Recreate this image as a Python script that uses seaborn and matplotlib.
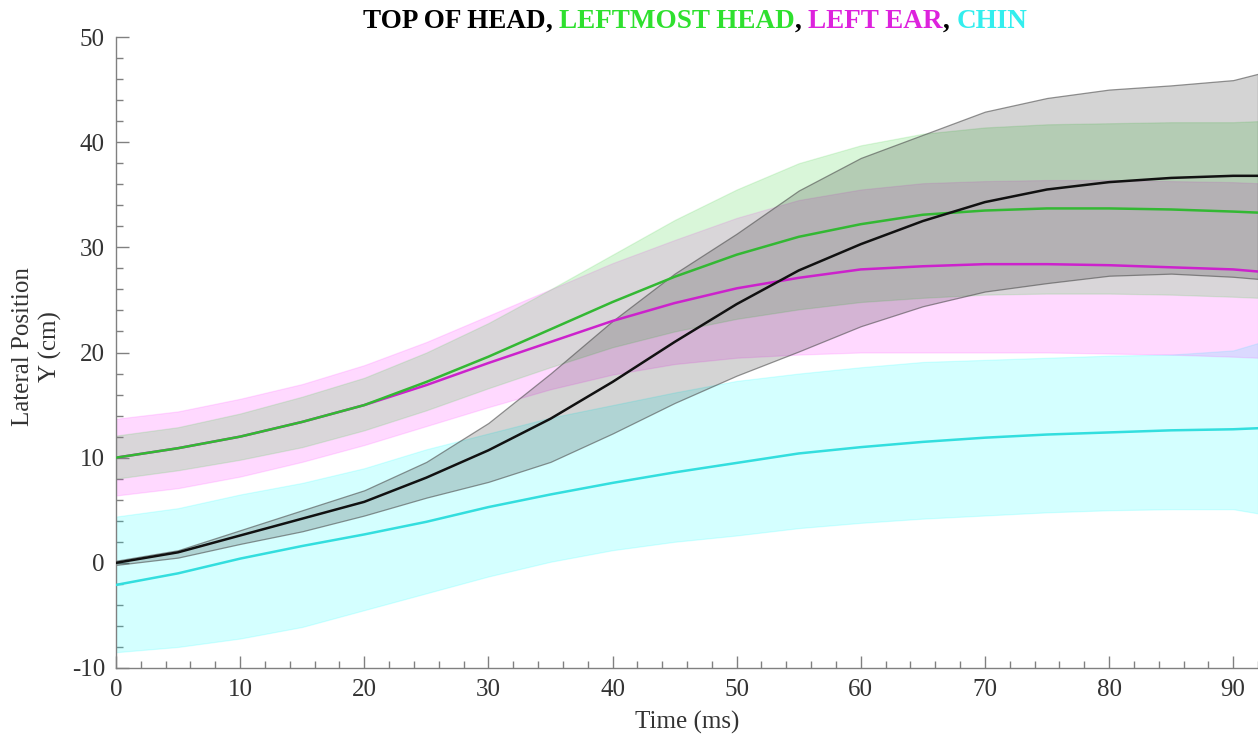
import numpy as np
import pandas as pd
import matplotlib
matplotlib.use("Agg")
import matplotlib.pyplot as plt
import seaborn as sns
from matplotlib.ticker import MultipleLocator

# ---------------- data ----------------
time_ms = [0, 5, 10, 15, 20, 25, 30, 35, 40, 45, 50, 55, 60, 65, 70, 75, 80, 85, 90, 92]

top_mean = [0.0, 1.0, 2.6, 4.2, 5.8, 8.1, 10.7, 13.7, 17.2, 21.0, 24.6, 27.8, 30.3, 32.5, 34.3, 35.5, 36.2, 36.6, 36.8, 36.8]
top_lo   = [-0.2, 0.5, 1.8, 3.0, 4.5, 6.2, 7.7, 9.6, 12.3, 15.2, 17.8, 20.1, 22.5, 24.4, 25.8, 26.6, 27.3, 27.5, 27.2, 27.0]
top_hi   = [0.2, 1.2, 3.1, 5.0, 6.9, 9.6, 13.3, 18.0, 23.0, 27.5, 31.3, 35.4, 38.5, 40.7, 42.9, 44.2, 45.0, 45.4, 45.9, 46.5]

lmh_mean = [10.0, 10.9, 12.0, 13.4, 15.0, 17.2, 19.6, 22.2, 24.8, 27.2, 29.3, 31.0, 32.2, 33.1, 33.5, 33.7, 33.7, 33.6, 33.4, 33.3]
lmh_lo   = [8.0, 8.8, 9.8, 11.0, 12.6, 14.5, 16.6, 18.6, 20.5, 22.0, 23.2, 24.1, 24.8, 25.2, 25.5, 25.6, 25.6, 25.5, 25.3, 25.2]
lmh_hi   = [12.1, 12.9, 14.2, 15.8, 17.6, 20.0, 22.8, 26.0, 29.3, 32.6, 35.5, 38.0, 39.7, 40.8, 41.4, 41.7, 41.8, 41.9, 41.9, 42.0]

ear_mean = [10.0, 10.9, 12.0, 13.4, 15.0, 16.9, 19.0, 21.0, 23.0, 24.7, 26.1, 27.1, 27.9, 28.2, 28.4, 28.4, 28.3, 28.1, 27.9, 27.7]
ear_lo   = [6.4, 7.1, 8.2, 9.6, 11.2, 13.0, 14.8, 16.5, 17.9, 18.9, 19.5, 19.8, 20.0, 20.0, 20.0, 20.0, 19.9, 19.8, 19.6, 19.5]
ear_hi   = [13.7, 14.4, 15.6, 17.0, 18.8, 21.0, 23.5, 26.0, 28.5, 30.7, 32.8, 34.5, 35.5, 36.1, 36.3, 36.4, 36.4, 36.3, 36.2, 36.1]

chin_mean = [-2.1, -1.0, 0.4, 1.6, 2.7, 3.9, 5.3, 6.5, 7.6, 8.6, 9.5, 10.4, 11.0, 11.5, 11.9, 12.2, 12.4, 12.6, 12.7, 12.8]
chin_lo   = [-8.5, -8.0, -7.2, -6.1, -4.5, -2.9, -1.3, 0.1, 1.2, 2.0, 2.6, 3.3, 3.8, 4.2, 4.5, 4.8, 5.0, 5.1, 5.1, 4.7]
chin_hi   = [4.4, 5.2, 6.5, 7.6, 9.0, 10.8, 12.3, 13.8, 15.0, 16.2, 17.3, 18.0, 18.6, 19.1, 19.3, 19.5, 19.7, 19.8, 20.2, 20.9]

series_names = ["TOP OF HEAD", "LEFTMOST HEAD", "LEFT EAR", "CHIN"]
x_ticks = [0, 10, 20, 30, 40, 50, 60, 70, 80, 90]
y_ticks = [-10, 0, 10, 20, 30, 40, 50]

# ---------------- styling ----------------
line_colors = {"TOP OF HEAD": "#111111", "LEFTMOST HEAD": "#33b833",
               "LEFT EAR": "#cc22cc", "CHIN": "#33dede"}
band_colors = {"TOP OF HEAD": "#000000", "LEFTMOST HEAD": "#22cc22",
               "LEFT EAR": "#ff22ff", "CHIN": "#00ffff"}
edge_colors = {"TOP OF HEAD": (0.3, 0.3, 0.3, 0.6), "LEFTMOST HEAD": (0.2, 0.8, 0.2, 0.15),
               "LEFT EAR": (1.0, 0.2, 1.0, 0.15), "CHIN": (0.0, 1.0, 1.0, 0.15)}
title_colors = {"TOP OF HEAD": "#000000", "LEFTMOST HEAD": "#2ee02e",
                "LEFT EAR": "#dd22dd", "CHIN": "#33eeee"}

sns.set_theme(style="ticks")
plt.rcParams["font.family"] = ["Liberation Serif", "DejaVu Serif"]
plt.rcParams["axes.unicode_minus"] = False

W, H = 1258, 740
fig = plt.figure(figsize=(W / 100, H / 100), dpi=100)
ax = fig.add_axes([116 / W, 1 - 668 / H, 1 - 116 / W, (668 - 37) / H])

means = {"TOP OF HEAD": top_mean, "LEFTMOST HEAD": lmh_mean, "LEFT EAR": ear_mean, "CHIN": chin_mean}
lows = {"TOP OF HEAD": top_lo, "LEFTMOST HEAD": lmh_lo, "LEFT EAR": ear_lo, "CHIN": chin_lo}
highs = {"TOP OF HEAD": top_hi, "LEFTMOST HEAD": lmh_hi, "LEFT EAR": ear_hi, "CHIN": chin_hi}

# shaded bands
for name in ["CHIN", "LEFT EAR", "LEFTMOST HEAD", "TOP OF HEAD"]:
    ax.fill_between(time_ms, lows[name], highs[name],
                    facecolor=matplotlib.colors.to_rgba(band_colors[name], 0.17),
                    edgecolor=edge_colors[name], linewidth=0.9, zorder=1)

# mean lines via seaborn
df = pd.concat([pd.DataFrame({"time": time_ms, "value": means[n], "series": n}) for n in series_names],
               ignore_index=True)
sns.lineplot(data=df, x="time", y="value", hue="series",
             hue_order=["CHIN", "LEFT EAR", "LEFTMOST HEAD", "TOP OF HEAD"],
             palette=line_colors, linewidth=1.8, legend=False, errorbar=None, ax=ax, zorder=3)

ax.set_xlim(0, 92)
ax.set_ylim(-10, 50)
ax.set_xticks(x_ticks)
ax.set_yticks(y_ticks)
ax.xaxis.set_minor_locator(MultipleLocator(2))
ax.yaxis.set_minor_locator(MultipleLocator(2))
ax.tick_params(which="both", direction="in", color="#808080", labelcolor="#333333", labelsize=18, width=1)
ax.tick_params(which="major", length=9, pad=8)
ax.tick_params(which="minor", length=5)
sns.despine(ax=ax)
for s in ["left", "bottom"]:
    ax.spines[s].set_color("#808080")
    ax.spines[s].set_linewidth(1)

ax.set_xlabel("Time (ms)", fontsize=18, color="#333333", labelpad=7)
ax.set_ylabel("Lateral Position\nY (cm)", fontsize=18, color="#333333", linespacing=1.25)
ax.yaxis.set_label_coords((62 - 116) / (W - 116), 0.51)

# multi-coloured title
pieces = [("TOP OF HEAD", title_colors["TOP OF HEAD"]), (", ", "#000000"),
          ("LEFTMOST HEAD", title_colors["LEFTMOST HEAD"]), (", ", "#000000"),
          ("LEFT EAR", title_colors["LEFT EAR"]), (", ", "#000000"),
          ("CHIN", title_colors["CHIN"])]
renderer = fig.canvas.get_renderer()
texts = []
total = 0
for s, c in pieces:
    t = fig.text(0, 1 - 28 / H, s, color=c, fontsize=19.5, fontweight="bold", ha="left", va="baseline")
    w = t.get_window_extent(renderer).width
    texts.append((t, w))
    total += w
x = 695 - total / 2
for t, w in texts:
    t.set_x(x / W)
    x += w

fig.savefig("out.png", dpi=100)
